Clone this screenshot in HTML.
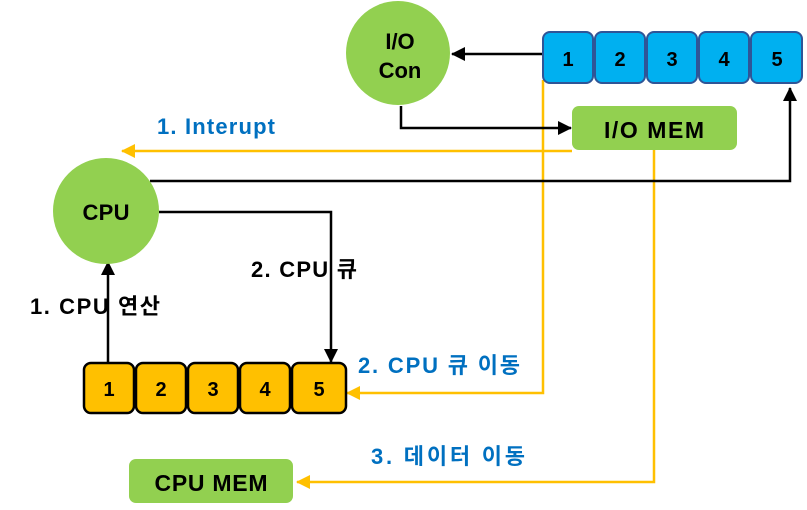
<!DOCTYPE html>
<html><head><meta charset="utf-8"><style>
body{margin:0;background:#fff}
svg text{font-family:"Liberation Sans","Noto Sans CJK KR",sans-serif;font-weight:bold}
</style></head><body>
<svg width="807" height="505" viewBox="0 0 807 505" xmlns="http://www.w3.org/2000/svg">
<defs>
<marker id="ab" markerWidth="14" markerHeight="14" refX="13" refY="7" orient="auto" markerUnits="userSpaceOnUse" viewBox="0 0 14 14"><path d="M0,0 L14,7 L0,14 z" fill="#000"/></marker>
<marker id="ao" markerWidth="14" markerHeight="14" refX="13" refY="7" orient="auto" markerUnits="userSpaceOnUse" viewBox="0 0 14 14"><path d="M0,0 L14,7 L0,14 z" fill="#FFC000"/></marker>
</defs>
<g fill="none" stroke-width="2.5">
<polyline points="572,151 122,151" stroke="#FFC000" marker-end="url(#ao)"/>
<polyline points="543,80 543,393 347,393" stroke="#FFC000" marker-end="url(#ao)"/>
<polyline points="654,150 654,482 297,482" stroke="#FFC000" marker-end="url(#ao)"/>
<polyline points="542,54 452,54" stroke="#000" marker-end="url(#ab)"/>
<polyline points="401,106 401,128 571,128" stroke="#000" marker-end="url(#ab)"/>
<polyline points="150,181 790,181 790,88" stroke="#000" marker-end="url(#ab)"/>
<polyline points="159,212 331,212 331,362" stroke="#000" marker-end="url(#ab)"/>
<polyline points="108,363 108,262" stroke="#000" marker-end="url(#ab)"/>
</g>
<circle cx="398" cy="53" r="52" fill="#92D050"/>
<circle cx="106" cy="211" r="53" fill="#92D050"/>
<rect x="572" y="106" width="165" height="44" rx="7" fill="#92D050"/>
<rect x="129" y="459" width="164" height="44" rx="7" fill="#92D050"/>
<g stroke="#2F5597" stroke-width="2" fill="#00B0F0">
<rect x="543" y="32" width="50" height="51" rx="7"/>
<rect x="595" y="32" width="50" height="51" rx="7"/>
<rect x="647" y="32" width="50" height="51" rx="7"/>
<rect x="699" y="32" width="50" height="51" rx="7"/>
<rect x="751" y="32" width="51" height="51" rx="7"/>
</g>
<g stroke="#000" stroke-width="2.5" fill="#FFC000">
<rect x="84" y="363" width="50" height="50" rx="7"/>
<rect x="136" y="363" width="50" height="50" rx="7"/>
<rect x="188" y="363" width="50" height="50" rx="7"/>
<rect x="240" y="363" width="50" height="50" rx="7"/>
<rect x="292" y="363" width="54" height="50" rx="7"/>
</g>
<g font-size="20" text-anchor="middle" fill="#000">
<text x="568" y="66">1</text><text x="620" y="66">2</text><text x="672" y="66">3</text><text x="724" y="66">4</text><text x="777" y="66">5</text>
<text x="109" y="396">1</text><text x="161" y="396">2</text><text x="213" y="396">3</text><text x="265" y="396">4</text><text x="319" y="396">5</text>
<text x="400" y="49" font-size="22">I/O</text>
<text x="400" y="78" font-size="22">Con</text>
<text x="106" y="220" font-size="22" textLength="47">CPU</text>
<text x="654" y="138" font-size="23" textLength="100">I/O MEM</text>
<text x="211" y="491" font-size="23" textLength="113">CPU MEM</text>
</g>
<g font-size="22">
<text x="157" y="134" fill="#0070C0" textLength="118">1. Interupt</text>
<text x="251" y="277" fill="#000" textLength="106">2. CPU 큐</text>
<text x="30" y="314" fill="#000" textLength="130">1. CPU 연산</text>
<text x="358" y="373" fill="#0070C0" textLength="162">2. CPU 큐 이동</text>
<text x="371" y="464" fill="#0070C0" textLength="154">3. 데이터 이동</text>
</g>
</svg>
</body></html>
